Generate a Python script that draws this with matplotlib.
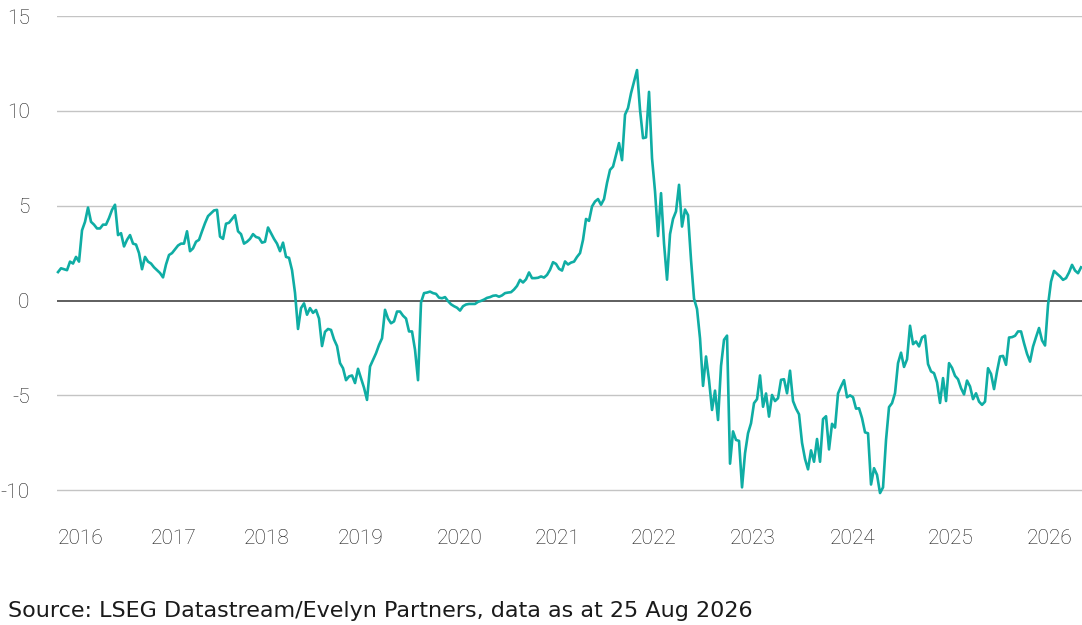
import numpy as np
import matplotlib
matplotlib.use("Agg")
import matplotlib.pyplot as plt

# series, evenly spaced in time
values = [
    1.5, 1.7, 1.65, 1.6, 2.05, 1.95, 2.3, 2.05, 3.7, 4.15,
    4.9, 4.15, 4.0, 3.8, 3.8, 4.0, 4.0, 4.35, 4.78, 5.05,
    3.45, 3.55, 2.85, 3.2, 3.45, 3.0, 2.95, 2.5, 1.65, 2.3,
    2.05, 1.95, 1.75, 1.6, 1.45, 1.22, 1.9, 2.4, 2.5, 2.7,
    2.9, 3.0, 3.0, 3.65, 2.6, 2.75, 3.1, 3.2, 3.65, 4.08,
    4.45, 4.6, 4.75, 4.78, 3.37, 3.25, 4.05, 4.1, 4.3, 4.5,
    3.65, 3.5, 3.0, 3.1, 3.25, 3.5, 3.35, 3.3, 3.05, 3.1,
    3.85, 3.55, 3.25, 3.0, 2.6, 3.05, 2.3, 2.25, 1.6, 0.4,
    -1.5, -0.4, -0.15, -0.75, -0.4, -0.65, -0.5, -0.95, -2.4, -1.65,
    -1.5, -1.55, -2.05, -2.4, -3.3, -3.57, -4.2, -4.0, -3.95, -4.35,
    -3.6, -4.1, -4.6, -5.24, -3.48, -3.13, -2.78, -2.34, -1.99, -0.49,
    -0.95, -1.2, -1.1, -0.58, -0.58, -0.8, -0.95, -1.63, -1.63, -2.6,
    -4.2, -0.1, 0.39, 0.42, 0.47, 0.39, 0.35, 0.15, 0.12, 0.18,
    -0.03, -0.2, -0.3, -0.38, -0.53, -0.3, -0.21, -0.18, -0.18, -0.18,
    -0.07, -0.02, 0.05, 0.14, 0.18, 0.25, 0.27, 0.2, 0.27, 0.39,
    0.42, 0.44, 0.58, 0.77, 1.09, 0.95, 1.12, 1.48, 1.18, 1.18,
    1.2, 1.27, 1.21, 1.35, 1.62, 2.02, 1.93, 1.67, 1.58, 2.06,
    1.9, 2.0, 2.05, 2.3, 2.5, 3.2, 4.3, 4.2, 4.96, 5.22,
    5.35, 5.05, 5.35, 6.2, 6.89, 7.06, 7.68, 8.3, 7.4, 9.8,
    10.15, 10.93, 11.55, 12.15, 10.05, 8.56, 8.6, 11.0, 7.5, 5.75,
    3.4, 5.66, 3.0, 1.1, 3.5, 4.3, 4.7, 6.1, 3.9, 4.8,
    4.5, 2.14, 0.1, -0.45, -2.0, -4.5, -2.95, -4.2, -5.77, -4.75,
    -6.3, -3.45, -2.07, -1.85, -8.6, -6.9, -7.35, -7.4, -9.85, -8.05,
    -7.0, -6.47, -5.41, -5.2, -3.95, -5.6, -4.9, -6.12, -4.98, -5.3,
    -5.15, -4.18, -4.15, -4.89, -3.7, -5.3, -5.7, -6.0, -7.5, -8.35,
    -8.9, -7.9, -8.5, -7.3, -8.5, -6.25, -6.1, -7.85, -6.5, -6.7,
    -4.9, -4.53, -4.2, -5.1, -5.0, -5.1, -5.7, -5.68, -6.2, -6.95,
    -7.0, -9.7, -8.84, -9.19, -10.15, -9.85, -7.35, -5.62, -5.41, -4.88,
    -3.3, -2.75, -3.5, -3.1, -1.33, -2.3, -2.16, -2.42, -1.95, -1.85,
    -3.35, -3.74, -3.83, -4.32, -5.4, -4.09, -5.3, -3.3, -3.55, -3.97,
    -4.15, -4.62, -4.95, -4.22, -4.53, -5.2, -4.89, -5.33, -5.5, -5.33,
    -3.57, -3.87, -4.67, -3.74, -2.95, -2.92, -3.39, -1.95, -1.93, -1.86,
    -1.63, -1.63, -2.25, -2.81, -3.22, -2.43, -1.93, -1.45, -2.1, -2.37,
    -0.23, 1.0, 1.56, 1.41, 1.27, 1.09, 1.18, 1.48, 1.88, 1.58,
    1.44, 1.75,
]
t_start, t_end = 2015.766, 2026.32
years = np.linspace(t_start, t_end, len(values))

year_labels = ["2016", "2017", "2018", "2019", "2020", "2021",
               "2022", "2023", "2024", "2025", "2026"]
year_pos = [2016.0, 2016.955, 2017.919, 2018.890, 2019.906, 2020.922,
            2021.913, 2022.936, 2023.968, 2024.979, 2026.0]
y_ticks = [-10, -5, 0, 5, 10, 15]

source = "Source: LSEG Datastream/Evelyn Partners, data as at 25 Aug 2026"

plt.rcParams["font.family"] = ["Roboto", "DejaVu Sans"]
txt_col = "#1a1a1a"

fig = plt.figure(figsize=(10.82, 6.25), dpi=100)
ax = fig.add_axes([0.05296, 0.2005, 0.94704, 0.7739])

ax.plot(years, values, color="#0fada4", lw=1.9, zorder=3, clip_on=False)
ax.axhline(0, color="#333333", lw=1.1, zorder=2)

ax.set_xlim(2015.7586, 2026.33)
ax.set_ylim(-10.5, 15)

ax.set_yticks(y_ticks)
ax.set_yticklabels([str(v) for v in y_ticks])
ax.set_xticks(year_pos)
ax.set_xticklabels(year_labels)

for v in y_ticks:
    if v != 0:
        ax.axhline(v, color="#c4c4c4", lw=1.0, zorder=1)

for s in ax.spines.values():
    s.set_visible(False)

ax.tick_params(axis="y", length=0, pad=20, labelsize=15, labelcolor=txt_col)
ax.tick_params(axis="x", length=0, pad=21, labelsize=15, labelcolor=txt_col)
for lab in ax.get_yticklabels() + ax.get_xticklabels():
    lab.set_fontweight("light")

fig.text(8 / 1082, 1 - 616.7 / 625, source, fontsize=16, color=txt_col,
         ha="left", va="baseline", family=["DejaVu Sans"])

fig.savefig("out.png", dpi=100)
